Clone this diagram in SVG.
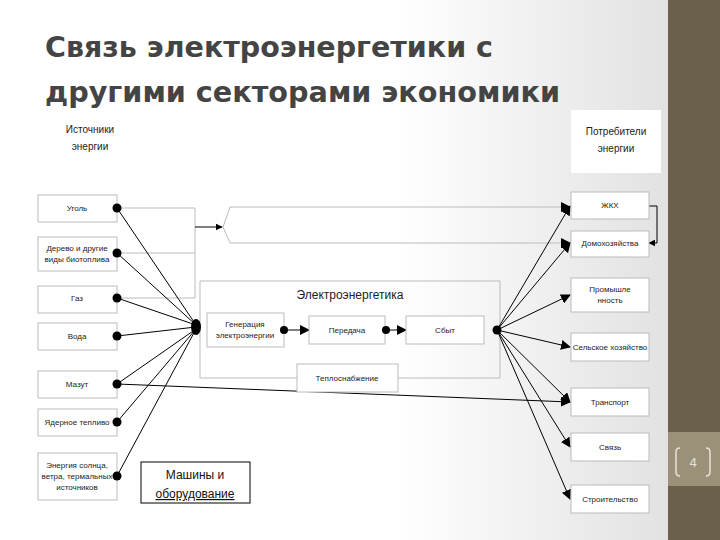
<svg xmlns="http://www.w3.org/2000/svg" width="720" height="540" viewBox="0 0 720 540">
<defs>
<linearGradient id="bg" x1="0" x2="1" y1="0" y2="0"><stop offset="0.55" stop-color="#fff"/><stop offset="1" stop-color="#dcdcdc"/></linearGradient>
<marker id="ar" viewBox="0 0 10 10" refX="9" refY="5" markerWidth="7" markerHeight="7" orient="auto" markerUnits="userSpaceOnUse"><path d="M0,0L10,5L0,10z" fill="#000"/></marker>
<marker id="arb" viewBox="0 0 10 10" refX="9" refY="5" markerWidth="10" markerHeight="10" orient="auto" markerUnits="userSpaceOnUse"><path d="M0,0L10,5L0,10z" fill="#000"/></marker>
</defs>
<style>
.b{fill:#fff;stroke:#bbb;stroke-width:1}
.t{font-family:"Liberation Sans",Arial,sans-serif;font-size:8px;fill:#222;text-anchor:middle}
.g{stroke:#bbb;stroke-width:1;fill:none}
.k{stroke:#000;stroke-width:1;fill:none}
</style>
<rect width="720" height="540" fill="url(#bg)"/>
<rect x="668" y="0" width="52" height="540" fill="#6b614b"/>
<rect x="668" y="432" width="52" height="54" fill="#9a9178"/>
<path d="M680,448 q-4,0 -4,4 v20 q0,4 4,4 M706,448 q4,0 4,4 v20 q0,4 -4,4" stroke="#e8e4d8" stroke-width="1.5" fill="none"/>
<text x="693" y="467" font-family="Liberation Sans,sans-serif" font-size="13" fill="#e8e4d8" text-anchor="middle">4</text>
<text x="45" y="57" font-family="DejaVu Sans Condensed,DejaVu Sans,sans-serif" font-weight="bold" font-size="29" fill="#444" textLength="448" lengthAdjust="spacingAndGlyphs">Связь электроэнергетики с</text>
<text x="45" y="102" font-family="DejaVu Sans Condensed,DejaVu Sans,sans-serif" font-weight="bold" font-size="29" fill="#444" textLength="515" lengthAdjust="spacingAndGlyphs">другими секторами экономики</text>
<g id="src-title"><text class="t" x="90" y="133" style="font-size:10px">Источники</text><text class="t" x="90" y="150" style="font-size:10px">энергии</text></g>
<g id="cons-title"><rect x="571" y="110" width="90" height="63" fill="#fff"/><text class="t" x="616" y="135" style="font-size:10px">Потребители</text><text class="t" x="616" y="152" style="font-size:10px">энергии</text></g>
<g id="connectors">
<path class="g" d="M117,208H195V298H117M117,253H195"/>
<path class="k" d="M195,227H222" marker-end="url(#ar)"/>
<path class="g" d="M223,227L230,207H570" marker-end="url(#arb)"/>
<path class="g" d="M223,227L230,243H570" marker-end="url(#arb)"/>
<path class="g" d="M200,378V281H500V378H398M297,378H200"/>
<g class="k">
<line x1="117" y1="208" x2="196" y2="325"/><line x1="117" y1="253" x2="196" y2="325"/><line x1="117" y1="298" x2="196" y2="325"/><line x1="117" y1="336" x2="196" y2="327"/><line x1="117" y1="384" x2="196" y2="329"/><line x1="117" y1="422" x2="196" y2="329"/><line x1="117" y1="476" x2="196" y2="329"/>
</g>
<line class="k" x1="117" y1="384" x2="570" y2="402" marker-end="url(#arb)"/>
<line class="k" x1="284" y1="330" x2="309" y2="330" marker-end="url(#arb)"/>
<line class="k" x1="386" y1="330" x2="406" y2="330" marker-end="url(#arb)"/>
<g class="k">
<line x1="497" y1="330" x2="570" y2="206" marker-end="url(#arb)"/>
<line x1="497" y1="330" x2="570" y2="243" marker-end="url(#arb)"/>
<line x1="497" y1="330" x2="570" y2="295" marker-end="url(#arb)"/>
<line x1="497" y1="330" x2="570" y2="347" marker-end="url(#arb)"/>
<line x1="497" y1="330" x2="570" y2="402" marker-end="url(#arb)"/>
<line x1="497" y1="330" x2="570" y2="447" marker-end="url(#arb)"/>
<line x1="497" y1="330" x2="570" y2="499" marker-end="url(#arb)"/>
</g>
<path class="k" d="M649,206H657V243H649" marker-end="url(#ar)"/>
</g>
<g id="sources">
<g id="n-ugol"><rect class="b" x="38" y="195" width="79" height="27"/><text class="t" x="77" y="211">Уголь</text></g>
<g id="n-derevo"><rect class="b" x="38" y="237" width="79" height="34"/><text class="t" x="77" y="251">Дерево и другие</text><text class="t" x="77" y="262">виды биотоплива</text></g>
<g id="n-gaz"><rect class="b" x="38" y="286" width="79" height="27"/><text class="t" x="77" y="301">Газ</text></g>
<g id="n-voda"><rect class="b" x="38" y="323" width="79" height="27"/><text class="t" x="77" y="339">Вода</text></g>
<g id="n-mazut"><rect class="b" x="38" y="371" width="79" height="27"/><text class="t" x="77" y="387">Мазут</text></g>
<g id="n-yad"><rect class="b" x="38" y="409" width="79" height="27"/><text class="t" x="77" y="425">Ядерное тепливо</text></g>
<g id="n-solar"><rect class="b" x="38" y="453" width="79" height="47"/><text class="t" x="77" y="468">Энергия солнца,</text><text class="t" x="77" y="479">ветра, термальных</text><text class="t" x="77" y="490">источников</text></g>
<g fill="#000"><circle cx="117" cy="208" r="4.5"/><circle cx="117" cy="253" r="4.5"/><circle cx="117" cy="298" r="4.5"/><circle cx="117" cy="336" r="4.5"/><circle cx="117" cy="384" r="4.5"/><circle cx="117" cy="422" r="4.5"/><circle cx="117" cy="476" r="4.5"/></g>
</g>
<g id="n-energy">
<text x="350" y="299" font-family="Liberation Sans,Arial,sans-serif" font-size="12" fill="#222" text-anchor="middle">Электроэнергетика</text>
<ellipse cx="196" cy="327" rx="5" ry="8" fill="#000"/>
<g id="n-gen"><rect class="b" x="207" y="313" width="77" height="34"/><text class="t" x="245" y="327">Генерация</text><text class="t" x="245" y="338">электроэнергии</text></g>
<circle cx="284" cy="330" r="4" fill="#000"/>
<g id="n-pered"><rect class="b" x="309" y="316" width="76" height="28"/><text class="t" x="347" y="333">Передача</text></g>
<circle cx="386" cy="330" r="4" fill="#000"/>
<g id="n-sbyt"><rect class="b" x="406" y="316" width="78" height="28"/><text class="t" x="445" y="333">Сбыт</text></g>
<circle cx="497" cy="330" r="4.5" fill="#000"/>
<g id="n-teplo"><rect class="b" x="297" y="364" width="101" height="28"/><text class="t" x="347" y="381">Теплоснабжение</text></g>
</g>
<g id="consumers">
<g id="c-zhkh"><rect class="b" x="571" y="192" width="78" height="27"/><text class="t" x="610" y="208">ЖКХ</text></g>
<g id="c-dom"><rect class="b" x="571" y="231" width="78" height="26"/><text class="t" x="610" y="246">Домохозяйства</text></g>
<g id="c-prom"><rect class="b" x="571" y="278" width="78" height="34"/><text class="t" x="610" y="292">Промышле</text><text class="t" x="610" y="303">нность</text></g>
<g id="c-sel"><rect class="b" x="571" y="333" width="78" height="28"/><text class="t" x="610" y="350">Сельское хозяйство</text></g>
<g id="c-trans"><rect class="b" x="571" y="388" width="78" height="28"/><text class="t" x="610" y="405">Транспорт</text></g>
<g id="c-svyaz"><rect class="b" x="571" y="433" width="78" height="28"/><text class="t" x="610" y="450">Связь</text></g>
<g id="c-stroi"><rect class="b" x="571" y="485" width="78" height="28"/><text class="t" x="610" y="502">Строительство</text></g>
</g>
<g id="n-mashiny"><rect x="141" y="462" width="109" height="41" fill="#fff" stroke="#000" stroke-width="1"/>
<text x="195" y="479" font-family="Liberation Sans,Arial,sans-serif" font-size="12" fill="#111" text-anchor="middle">Машины и</text>
<text x="195" y="498" font-family="Liberation Sans,Arial,sans-serif" font-size="12" fill="#111" text-anchor="middle" text-decoration="underline">оборудование</text></g>
</svg>
